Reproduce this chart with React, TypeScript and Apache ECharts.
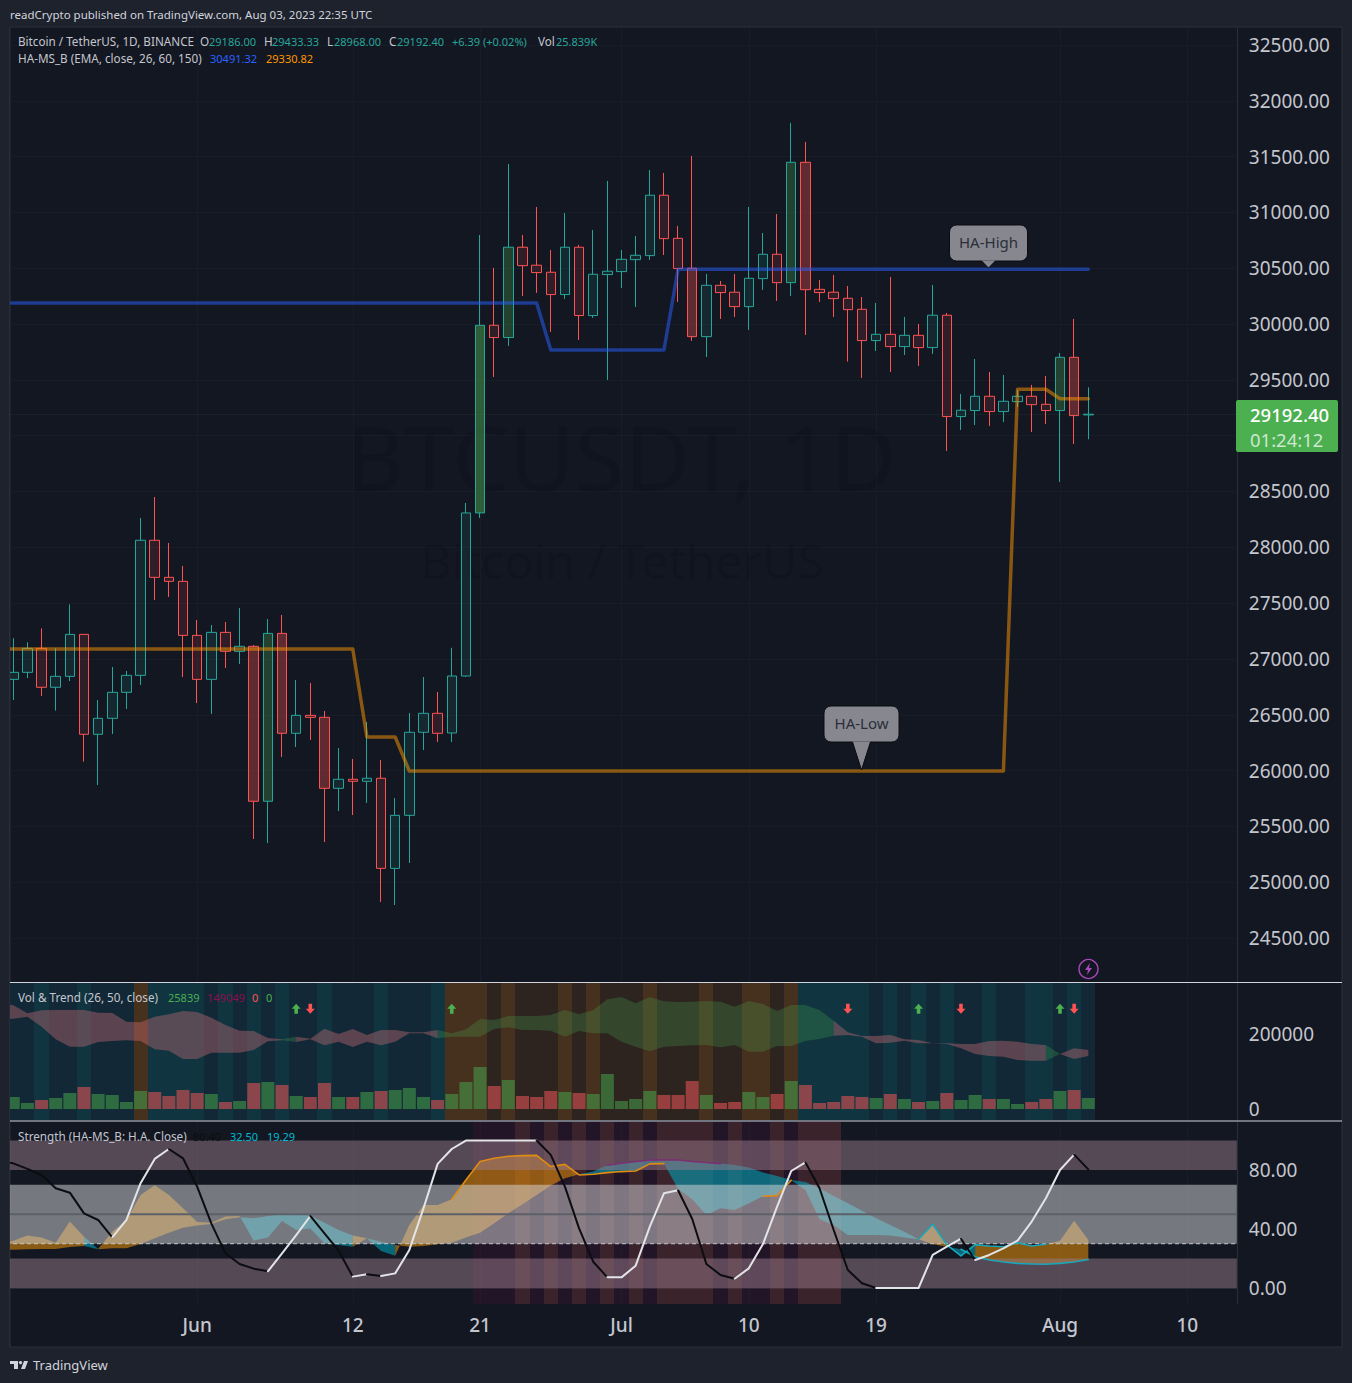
import React, { useEffect, useRef } from "react";
import * as echarts from "echarts";

// ---------- data ----------
const opens = [26817,26880,27095,26746,26844,27220,26325,26468,26701,26853,28063,27731,27695,27211,26817,27238,27068,27113,25725,27229,26334,26495,26477,25841,25922,25904,25931,25124,25599,26343,26513,26337,26847,28308,29989,29879,30688,30527,30464,30264,30688,30076,30443,30470,30577,30613,31154,30768,30500,29887,30347,30285,30156,30407,30625,30371,31449,30311,30285,30231,30132,29852,29908,29798,29899,29789,30079,29171,29225,29353,29216,29305,29353,29281,29225,29702,29186];
const closes = [26880,27095,26746,26844,27220,26325,26468,26701,26853,28063,27731,27695,27211,26817,27238,27068,27113,25725,27229,26334,26495,26477,25841,25922,25904,25931,25124,25599,26343,26513,26334,26847,28308,29989,29879,30688,30523,30461,30264,30688,30076,30446,30473,30580,30616,31154,30765,30497,29887,30347,30282,30156,30410,30625,30371,31449,30308,30282,30228,30129,29852,29908,29798,29899,29789,30079,29171,29228,29353,29216,29308,29353,29278,29225,29702,29180,29192.4];
const lows = [26632,26829,26668,26537,26802,26080,25871,26328,26552,26767,27528,27555,26838,26605,26507,26919,26955,25387,25351,26122,26211,26274,25360,25638,25602,25710,24823,24796,25172,26184,26256,26256,26840,28263,29526,29804,30252,30279,29929,30225,29858,30055,29499,30323,30153,30574,30619,30198,29849,29705,30046,30064,29947,30306,30207,30252,29902,30198,30064,29663,29517,29759,29571,29723,29625,29732,28863,29051,29096,29087,29123,29257,29033,29105,28586,28926,28968];
const highs = [27185,27149,27274,27095,27489,27220,26632,26928,26892,28263,28451,28039,27833,27349,27304,27331,27456,27125,27358,27394,26811,26784,26534,26202,26104,26435,26095,25754,26516,26838,26704,27100,28397,30798,30503,31434,30798,31049,30664,30995,30709,30843,31282,30664,30789,31380,31354,30879,31506,30449,30386,30449,31049,30816,30986,31802,31631,30395,30440,30341,30243,30189,30422,30064,30001,30350,30099,29374,29687,29571,29544,29410,29455,29535,29741,30046,29433.33];
const volumes = [32000,16000,24000,29300,42700,58700,40000,37300,18700,48000,45300,34700,50700,42700,40000,18700,21300,69300,72000,64000,34700,32000,69300,32000,32000,45300,48000,50700,56000,32000,24000,40000,72000,112000,61300,77300,34700,32000,48000,45300,42700,40000,93300,21300,26700,48000,37300,37300,74700,37300,16000,18700,45300,32000,40000,74700,64000,16000,18700,34700,32000,29300,40000,26700,18700,21300,42700,24000,37300,26700,26700,13300,18700,26700,48000,50700,29300];

// series below start one day before the first candle
const haHigh = [30189,...Array(38).fill(30189),...Array(9).fill(29768),...Array(30).fill(30491.32)];
const haLow = [27089,...Array(25).fill(27089),26301,26301,26301,...Array(43).fill(25996),29416,29416,29416,29330.82,29330.82,29330.82];

const ribbonUpper = [281800,276400,255100,263100,264000,264000,264000,256900,256000,232900,231100,246200,252400,261300,258700,243500,224000,208900,208000,189300,185800,192900,187500,214200,200000,213300,197300,210600,210600,204400,204400,210600,201800,212400,240000,237300,248000,248000,248000,250700,264000,252400,264000,292400,298700,281800,298700,287100,285300,286200,288000,286200,272900,288000,280000,261300,277300,277300,264000,235500,204400,194600,194600,197300,185800,184000,175100,175100,173300,173300,181300,182200,179500,173300,170600,146600,161800,157300];
const ribbonLower = [239100,240900,246200,219500,185800,166200,166200,178600,181300,183100,181300,159100,155500,133300,133300,150200,150200,150200,157300,180400,183100,178600,185800,169800,179500,165300,179500,169800,179500,201800,201800,188400,192900,192900,192900,213300,217800,210600,210600,208900,192900,208000,201800,201800,179500,166200,153800,166200,168000,169800,170600,164400,170600,152900,152900,168000,168000,181300,186600,195500,197300,192900,175100,176900,182200,175100,175100,173300,161800,146600,141300,139500,130600,128900,128900,146600,133300,141300];
const ribbonRuns = [[-1,19,"r"],[19,20,"g"],[20,30,"r"],[30,58,"g"],[58,73,"r"],[73,74,"g"],[74,76,"r"]];

const strengthK = [85.7,84.5,80.7,76.6,67.6,64.6,50.6,46.1,34.3,46.1,71,87.5,94.2,87.9,68.7,43.8,23.5,16.3,13.1,11.3,23.5,35.9,48.8,37,25.3,7.7,9.3,8.1,9.9,25.8,54,84.1,94.2,99.9,100,100,100,100,100,90.2,68.7,40.4,17.8,7.2,7.2,15.1,41.6,64.2,66.2,46.8,16.3,8.8,6.3,13.3,29.8,55.1,79.3,85.2,67.6,39.3,12.2,3.2,0,0,0,0,22.4,28,33.4,19,22.4,26.9,32.1,45,60.8,80,90.4,80.4];
const strengthFast = [29.6,32.1,35.5,34.3,30.7,45,34.8,26.4,38.2,46.1,63.1,69.6,63.1,54,44.7,44.3,48.4,48.8,32.1,34.3,45.4,39.3,40.4,30.3,29.2,28,33.7,25.1,21.9,42.7,56.3,56.3,60.1,73.2,85.7,87.9,89.3,89.7,89.9,82.3,83.8,76.6,77.1,78.2,78.9,79.3,84.1,84.3,67.1,60.1,49.5,54,52.9,57.4,62.2,62.6,73,66.4,46.6,42.7,35.9,35.9,35.9,35.5,34.3,33,43.2,29.2,21.7,29.4,28.5,28,30.7,28.5,29.6,32.1,45.6,32.5];
const strengthSlow = [26.2,26,26.2,26.4,26.4,27.8,28.5,26.2,26.9,26.9,29.8,33.7,37.5,40.9,42.3,43.4,46.6,47.9,47.2,48.8,49.9,50.6,49,44.3,39.3,35.5,33.7,31.4,29.2,28,28.5,29.6,30.7,34.3,37.5,43.8,50.6,56.7,63.1,69.4,74.3,77.1,78.9,83.2,84.5,85.7,86.6,86.8,86.8,85.7,85,84.3,83.4,81.6,78.2,75.9,73.2,71.9,67.6,62.4,57.4,52.4,47.2,42.7,38.2,33,29.6,28,26.2,21.2,19,17.6,16.7,16.3,16.1,16.7,17.6,19.29];
const strengthRuns = [[-1,5,"o"],[5,6,"t"],[6,16,"o"],[16,24,"t"],[24,25,"o"],[25,27,"t"],[27,40,"o"],[40,64,"t"],[64,66,"o"],[66,68,"t"],[68,76,"o"]];
const strengthBands = [[80,100],[30,70],[0,20]];

const arrowUpDays = [20,31,64,74];
const arrowDownDays = [21,59,67,75];
const arrowLevel = 267500;

const priceTicks = [24500,25000,25500,26000,26500,27000,27500,28000,28500,29000,29500,30000,30500,31000,31500,32000,32500];
const priceLabels = [24500,25000,25500,26000,26500,27000,27500,28000,28500,29500,30000,30500,31000,31500,32000,32500];
const volumeTicks = [0,200000];
const strengthTicks = [0,40,80];
const timeTickDates = ["2023-06-01","2023-06-12","2023-06-21","2023-07-01","2023-07-10","2023-07-19","2023-08-01","2023-08-10"];
const timeTickLabels = ["Jun","12","21","Jul","10","19","Aug","10"];

// stripes, by day number
const brightTealDays = [2,5,10,11,12,13,15,17,19,22,26,30,56,57,58,59,60,62,64,66,69,72,73,75];
const orangeDays = [9,31,32,33,35,39,41,45,49,52,53,55];
const strongRed = [17,19,22,48,56,75];
const strongGreen = [18,35,55,74];
const strongestGreen = [33];
const strengthPurpleDays = [33,34,35,37,39,41,43,45,50,52,53,55];
const strengthBrownDays = [36,38,40,42,44,46,47,48,49,51,54,56,57,58];

// ---------- layout ----------
const FONT = '"Noto Sans", sans-serif';
const PANE = "#131722";
const PAGE = "#1e222d";
const GRIDLINE = "#181c27";
const LABEL = "#c4c6ce";
const UP = "#26a69a";
const DOWN = "#ff5252";
const LEFT = -7.945;
const WIDTH = 1244.76;
const DAYS = 88;

const categories: string[] = [];
for (let i = 0; i < DAYS; i++) {
  categories.push(new Date(Date.UTC(2023, 4, 18 + i)).toISOString().slice(0, 10));
}
const tickMap = new Map(timeTickDates.map((d, i) => [d, timeTickLabels[i]]));
const isTick = (_: number, v: string) => tickMap.has(v);

const txt = (x: number, y: number, text: string, fill: string, fontSize = 11.7, extra: any = {}) => ({
  type: "text",
  z: 20,
  silent: true,
  style: { x, y: fontSize < 13 ? y - 1 : y, text, fill, fontSize, fontFamily: FONT, verticalAlign: "middle", align: "left", ...extra },
});

const polygonRuns = (xi: number, yi: number, hi: number[], lo: number[], runs: any[], colors: any, z: number, name: string) => ({
  type: "custom",
  name,
  xAxisIndex: xi,
  yAxisIndex: yi,
  z,
  silent: true,
  clip: true,
  encode: { x: 0, y: 1 },
  data: runs.map((r) => [r[0] + 1, r[1] + 1]),
  renderItem: (params: any, api: any) => {
    const r = runs[params.dataIndex];
    const pts: number[][] = [];
    for (let i = r[0] + 1; i <= r[1] + 1; i++) pts.push(api.coord([i, hi[i]]));
    for (let i = r[1] + 1; i >= r[0] + 1; i--) pts.push(api.coord([i, lo[i]]));
    return { type: "polygon", shape: { points: pts }, style: { fill: colors[r[2]] } };
  },
});

const stripes = (xi: number, yi: number, days: number[], colorOf: (d: number) => string, name: string) => ({
  type: "custom",
  name,
  xAxisIndex: xi,
  yAxisIndex: yi,
  z: 1,
  silent: true,
  encode: { x: 0, y: 1 },
  data: days.map((d) => [d + 1, 0]),
  renderItem: (params: any, api: any) => {
    const d = days[params.dataIndex];
    const cs = params.coordSys;
    const c = api.coord([d + 1, 0]);
    const w = api.size([1, 0])[0];
    const l = Math.round(c[0] - w / 2);
    const r = Math.round(c[0] + w / 2);
    return { type: "rect", shape: { x: l, y: cs.y, width: r - l, height: cs.height }, style: { fill: colorOf(d) } };
  },
});

const partial = (arr: number[], from: number, to: number) =>
  arr.map((v, i) => (i - 1 >= from && i - 1 <= to ? v : null));

const lineOn = (name: string, xi: number, yi: number, data: any[], color: string, width: number, z: number) => ({
  type: "line",
  name,
  xAxisIndex: xi,
  yAxisIndex: yi,
  data,
  z,
  silent: true,
  symbol: "none",
  connectNulls: false,
  lineStyle: { color, width, cap: "round", join: "round" },
});

function candleFill(i: number) {
  const up = closes[i] >= opens[i];
  if (strongestGreen.includes(i)) return "rgba(76,175,80,0.47)";
  if (strongGreen.includes(i)) return "rgba(76,175,80,0.28)";
  if (strongRed.includes(i)) return "rgba(255,82,82,0.33)";
  return up ? "rgba(38,166,154,0.12)" : "rgba(255,82,82,0.12)";
}

function kRuns() {
  const out: any[] = [];
  let start = 0;
  for (let i = 1; i <= strengthK.length; i++) {
    const rising = (j: number) => strengthK[j + 1] >= strengthK[j];
    if (i === strengthK.length - 1 || rising(i) !== rising(i - 1)) {
      const end = i;
      const color = rising(start) ? "#e3e4e8" : "#0c0d10";
      out.push(lineOn("Strength K " + start, 2, 2, strengthK.map((v, j) => (j >= start && j <= end ? v : null)), color, 2, 6));
      start = end;
      if (i === strengthK.length - 1) break;
    }
  }
  return out;
}

const teal = (d: number) => {
  if (orangeDays.includes(d)) return "#46301e";
  if (d >= 31 && d <= 55) return "#2d2420";
  return brightTealDays.includes(d) ? "#103440" : "#132836";
};

const callout = (cx: number, top: number, w: number, h: number, tipY: number, halfTip: number, text: string) => ({
  type: "group",
  z: 20,
  silent: true,
  children: [
    { type: "rect", z: 20, shape: { x: cx - w / 2, y: top, width: w, height: h, r: 7 }, style: { fill: "#87888f", stroke: "#0c0d12", lineWidth: 1 } },
    { type: "polygon", z: 21, shape: { points: [[cx - halfTip, top + h - 0.5], [cx + halfTip, top + h - 0.5], [cx, tipY]] }, style: { fill: "#87888f" } },
    { type: "polyline", z: 21, shape: { points: [[cx - halfTip, top + h], [cx, tipY], [cx + halfTip, top + h]] }, style: { fill: "none", stroke: "#0c0d12", lineWidth: 1 } },
    { type: "text", z: 22, style: { x: cx, y: top + h / 2 - 1, text, fill: "#2a2e39", fontSize: 15, fontFamily: FONT, align: "center", verticalAlign: "middle" } },
  ],
});

function buildOption(): any {
  const xCommon = (i: number, showLabel: boolean) => ({
    type: "category",
    gridIndex: i,
    data: categories,
    boundaryGap: true,
    axisTick: { show: false, alignWithLabel: true },
    axisLine: { show: showLabel, lineStyle: { color: "#2a2e39" } },
    splitLine: { show: true, alignWithLabel: true, interval: isTick, lineStyle: { color: GRIDLINE, width: 1 } },
    axisLabel: {
      show: showLabel,
      interval: isTick,
      margin: 11,
      fontFamily: FONT,
      fontSize: 19,
      fontWeight: 500,
      color: LABEL,
      formatter: (v: string) => tickMap.get(v) || "",
    },
  });
  const yCommon = (i: number, min: number, max: number, ticks: number[], labels: number[], fmt: (v: number) => string, grid: boolean) => ({
    type: "value",
    gridIndex: i,
    position: "right",
    min,
    max,
    scale: true,
    axisLine: { show: true, lineStyle: { color: "#2a2e39" } },
    axisTick: { show: false, customValues: ticks },
    splitLine: { show: grid, lineStyle: { color: GRIDLINE, width: 1 } },
    axisLabel: { margin: 12, customValues: labels, fontFamily: FONT, fontSize: 19, color: LABEL, formatter: fmt, showMinLabel: true, showMaxLabel: true },
  });

  const candleData = [
    "-",
    ...opens.map((o, i) => {
      const fill = candleFill(i);
      const c = closes[i] >= o ? UP : DOWN;
      return {
        value: [o, closes[i], lows[i], highs[i]],
        itemStyle: { color: fill, color0: fill, borderColor: c, borderColor0: c, borderColorDoji: c, borderWidth: 1 },
      };
    }),
  ];
  const volData = [
    null,
    ...volumes.map((v, i) => ({
      value: v,
      itemStyle: { color: closes[i] >= opens[i] ? "rgba(69,161,73,0.56)" : "rgba(236,85,85,0.56)" },
    })),
  ];
  const allDays = opens.map((_, i) => i);

  const series: any[] = [
    {
      type: "candlestick",
      name: "BTCUSDT",
      xAxisIndex: 0,
      yAxisIndex: 0,
      data: candleData,
      barWidth: 10,
      z: 2,
      silent: true,
      markLine: {
        silent: true,
        symbol: "none",
        label: { show: false },
        lineStyle: { type: "dotted", color: "rgba(76,175,80,0.16)", width: 1 },
        data: [{ yAxis: 29192.4 }],
      },
    },
    lineOn("HA-High", 0, 0, haHigh, "rgba(41,98,255,0.5)", 3.5, 3),
    lineOn("HA-Low", 0, 0, haLow, "rgba(255,152,0,0.5)", 3.5, 3),
    stripes(1, 1, allDays, teal, "Trend zones"),
    polygonRuns(1, 1, ribbonUpper, ribbonLower, ribbonRuns, { r: "rgba(240,125,130,0.33)", g: "rgba(76,175,80,0.25)" }, 2, "Trend ribbon"),
    {
      type: "bar",
      name: "Volume",
      xAxisIndex: 1,
      yAxisIndex: 1,
      data: volData,
      barWidth: 13,
      z: 3,
      silent: true,
    },
    {
      type: "scatter",
      name: "Up arrows",
      xAxisIndex: 1,
      yAxisIndex: 1,
      z: 4,
      silent: true,
      symbol: "path://M5 0 L10 5 L7 5 L7 10 L3 10 L3 5 L0 5 Z",
      symbolSize: [9, 10],
      itemStyle: { color: "#4caf50", opacity: 1 },
      data: arrowUpDays.map((d) => [d + 1, arrowLevel]),
    },
    {
      type: "scatter",
      name: "Down arrows",
      xAxisIndex: 1,
      yAxisIndex: 1,
      z: 4,
      silent: true,
      symbol: "path://M3 0 L7 0 L7 5 L10 5 L5 10 L0 5 L3 5 Z",
      symbolSize: [9, 10],
      itemStyle: { color: "#ff5252", opacity: 1 },
      data: arrowDownDays.map((d) => [d + 1, arrowLevel]),
    },
    stripes(2, 2, strengthPurpleDays, () => "rgba(126,16,81,0.15)", "Strength purple"),
    stripes(2, 2, strengthBrownDays, () => "rgba(179,71,74,0.25)", "Strength brown"),
    { ...polygonRuns(2, 2, strengthFast, strengthSlow, strengthRuns, { o: "rgba(235,145,8,0.55)", t: "rgba(0,172,193,0.55)" }, 2, "Strength area") },
    {
      type: "custom",
      name: "Strength bands",
      xAxisIndex: 2,
      yAxisIndex: 2,
      z: 3,
      silent: true,
      encode: { x: 0, y: [1, 2] },
      data: strengthBands.map((b) => [0, b[0], b[1]]),
      renderItem: (params: any, api: any) => {
        const cs = params.coordSys;
        const lo = api.coord([0, api.value(1)])[1];
        const hi = api.coord([0, api.value(2)])[1];
        const isGray = params.dataIndex === 1;
        const rectEl = {
          type: "rect",
          shape: { x: cs.x, y: hi, width: cs.width, height: lo - hi },
          style: { fill: isGray ? "rgba(217,217,220,0.5)" : "rgba(153,123,138,0.5)" },
        };
        if (!isGray) return rectEl;
        const mid = api.coord([0, 50])[1];
        return {
          type: "group",
          children: [
            rectEl,
            { type: "line", shape: { x1: cs.x, y1: mid, x2: cs.x + cs.width, y2: mid }, style: { stroke: "#5d5f69", lineWidth: 2 } },
            { type: "line", shape: { x1: cs.x, y1: lo, x2: cs.x + cs.width, y2: lo }, style: { stroke: "#c6c8ce", lineWidth: 1, lineDash: [4, 3] } },
          ],
        };
      },
    },
    lineOn("Fast orange A", 2, 2, partial(strengthFast, 31, 46), "#e08b12", 1.6, 4),
    lineOn("Fast orange B", 2, 2, partial(strengthFast, 53, 55), "#e08b12", 1.6, 4),
    lineOn("Fast teal", 2, 2, partial(strengthFast, 64, 73), "#1aa5b8", 1.6, 4),
    lineOn("Slow teal", 2, 2, partial(strengthSlow, 67, 76), "#1aa5b8", 1.6, 4),
    lineOn("Slow magenta", 2, 2, partial(strengthSlow, 42, 50), "#7c2f72", 1.6, 4),
    ...kRuns(),
  ];

  const graphic: any[] = [
    { type: "rect", z: 0, silent: true, shape: { x: 10, y: 27, width: 1332, height: 1320 }, style: { fill: PANE, stroke: "#2a2e39", lineWidth: 1 } },
    { type: "text", z: 1, silent: true, style: { x: 621, y: 456, text: "BTCUSDT, 1D", fill: "rgba(0,0,0,0.1)", fontSize: 90, fontFamily: FONT, align: "center", verticalAlign: "middle" } },
    { type: "text", z: 1, silent: true, style: { x: 622, y: 560, text: "Bitcoin / TetherUS", fill: "rgba(0,0,0,0.1)", fontSize: 48, fontFamily: FONT, align: "center", verticalAlign: "middle" } },
    { type: "rect", z: 19, silent: true, shape: { x: 0, y: 0, width: 10, height: 1383 }, style: { fill: PAGE } },
    { type: "line", z: 19, silent: true, shape: { x1: 9.5, y1: 27, x2: 9.5, y2: 1347 }, style: { stroke: "#2a2e39", lineWidth: 1 } },
    { type: "line", z: 19, silent: true, shape: { x1: 10, y1: 982.5, x2: 1342, y2: 982.5 }, style: { stroke: "#d1d4dc", lineWidth: 1 } },
    { type: "line", z: 19, silent: true, shape: { x1: 10, y1: 1121, x2: 1342, y2: 1121 }, style: { stroke: "#d1d4dc", lineWidth: 1 } },
    txt(10, 15, "readCrypto published on TradingView.com, Aug 03, 2023 22:35 UTC", "#d1d4dc", 11.5),
    txt(18, 42, "Bitcoin / TetherUS, 1D, BINANCE", "#c4c6ce"),
    txt(200, 42, "O", "#c4c6ce"),
    txt(209, 42, "29186.00", UP, 11),
    txt(264, 42, "H", "#c4c6ce"),
    txt(272, 42, "29433.33", UP, 11),
    txt(327, 42, "L", "#c4c6ce"),
    txt(334, 42, "28968.00", UP, 11),
    txt(389, 42, "C", "#c4c6ce"),
    txt(397, 42, "29192.40", UP, 11),
    txt(452, 42, "+6.39 (+0.02%)", UP, 11),
    txt(538, 42, "Vol", "#c4c6ce"),
    txt(556, 42, "25.839K", UP, 11),
    txt(18, 59, "HA-MS_B (EMA, close, 26, 60, 150)", "#c4c6ce"),
    txt(210, 59, "30491.32", "#2962ff", 11),
    txt(266, 59, "29330.82", "#ff9800", 11),
    txt(18, 998, "Vol & Trend (26, 50, close)", "#c4c6ce"),
    txt(168, 998, "25839", "#4caf50", 11),
    txt(207, 998, "149049", "#880e4f", 11),
    txt(252, 998, "0", "#ff5252", 11),
    txt(266, 998, "0", "#4caf50", 11),
    txt(18, 1137, "Strength (HA-MS_B: H.A. Close)", "#c4c6ce"),
    txt(193, 1137, "80.40", "#0c0d10", 11),
    txt(230, 1137, "32.50", "#00bcd4", 11),
    txt(267, 1137, "19.29", "#00bcd4", 11),
    callout(988.5, 225, 78, 36, 268, 7, "HA-High"),
    callout(861.5, 706, 75, 36, 770, 9, "HA-Low"),
    { type: "rect", z: 20, silent: true, shape: { x: 1236, y: 400, width: 102, height: 52, r: 2 }, style: { fill: "#4caf50" } },
    txt(1250, 414, "29192.40", "#ffffff", 18.5, { fontWeight: 500 }),
    txt(1250, 439, "01:24:12", "rgba(255,255,255,0.72)", 18.5),
    { type: "circle", z: 20, silent: true, shape: { cx: 1088.5, cy: 969, r: 9.5 }, style: { fill: PANE, stroke: "#ab47bc", lineWidth: 1.4 } },
    { type: "polygon", z: 21, silent: true, shape: { points: [[1090, 963], [1085, 970], [1088, 970], [1087, 975], [1092, 968], [1089, 968]] }, style: { fill: "#ab47bc" } },
    { type: "rect", z: 20, silent: true, shape: { x: 10, y: 1361, width: 8, height: 3 }, style: { fill: "#d1d4dc" } },
    { type: "rect", z: 20, silent: true, shape: { x: 14, y: 1361, width: 4, height: 8 }, style: { fill: "#d1d4dc" } },
    { type: "circle", z: 20, silent: true, shape: { cx: 20.5, cy: 1362.6, r: 1.7 }, style: { fill: "#d1d4dc" } },
    { type: "polygon", z: 20, silent: true, shape: { points: [[24, 1361], [28, 1361], [25, 1369], [21, 1369]] }, style: { fill: "#d1d4dc" } },
    txt(33, 1365, "TradingView", "#d1d4dc", 13),
  ];

  const gridCommon = { left: LEFT, width: WIDTH, outerBoundsMode: "none" };
  return {
    animation: false,
    backgroundColor: PAGE,
    tooltip: { show: false },
    legend: { show: false },
    textStyle: { fontFamily: FONT },
    grid: [
      { ...gridCommon, top: 28, height: 954 },
      { ...gridCommon, top: 983, height: 137 },
      { ...gridCommon, top: 1122, height: 182 },
    ],
    xAxis: [xCommon(0, false), xCommon(1, false), xCommon(2, true)],
    yAxis: [
      yCommon(0, 24106, 32652, priceTicks, priceLabels, (v) => v.toFixed(2), true),
      yCommon(1, -29333, 336000, volumeTicks, volumeTicks, (v) => String(v), false),
      yCommon(2, -10.85, 112.5, strengthTicks, strengthTicks, (v) => v.toFixed(2), false),
    ],
    graphic,
    series,
  };
}

export default function App() {
  const ref = useRef<HTMLDivElement>(null);
  useEffect(() => {
    const chart = echarts.init(ref.current!, undefined, { renderer: "svg", width: 1352, height: 1383 });
    chart.setOption(buildOption());
    return () => chart.dispose();
  }, []);
  return <div ref={ref} style={{ position: "absolute", left: 0, top: 0, width: 1352, height: 1383 }} />;
}
